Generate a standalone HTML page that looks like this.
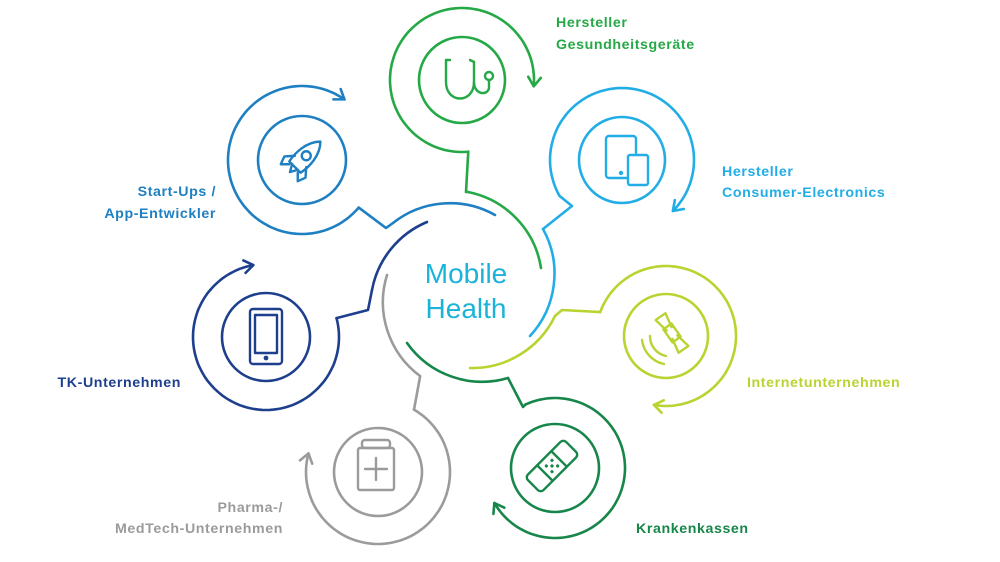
<!DOCTYPE html>
<html><head><meta charset="utf-8"><style>
html,body{margin:0;padding:0;background:#fff;}
svg{display:block;}
text{font-family:"Liberation Sans",sans-serif;font-weight:bold;font-size:14.2px;letter-spacing:0.6px;}
</style></head><body>
<svg id="s" width="1000" height="562" viewBox="0 0 1000 562" xmlns="http://www.w3.org/2000/svg">
<g id="g" fill="none" stroke-width="2.6" stroke-linecap="round" stroke-linejoin="round"></g>
<g id="icons" fill="none" stroke-width="2.4" stroke-linecap="round" stroke-linejoin="round">
  <g stroke="#1e7fc2" transform="translate(302,160) rotate(45)">
    <path d="M0,-26 C10,-16 10,0 8,10 L-8,10 C-10,0 -10,-16 0,-26 Z"/>
    <circle cx="0" cy="-6" r="4.5"/>
    <path d="M-8,2 L-15,10 L-12,18 L-6,12 M8,2 L15,10 L12,18 L6,12 M-4,10 L0,17 L4,10"/>
  </g>
  <g stroke="#25a846">
    <path d="M446,60 L446,82 C446,104 474,104 474,82 L474,62"/>
    <path d="M446,60 L450,60 M470,60 L474,62"/>
    <path d="M474,82 C474,96 490,96 489,86 L489,80"/>
    <circle cx="489" cy="76" r="4"/>
  </g>
  <g stroke="#22ade6">
    <rect x="606" y="136" width="30" height="42" rx="3"/>
    <rect x="628" y="155" width="20" height="30" rx="2" fill="#fff"/>
    <circle cx="621" cy="173" r="1" fill="#22ade6"/>
  </g>
  <g stroke="#b8d431">
    <g transform="translate(672,333) rotate(-35)">
      <rect x="-5" y="-8" width="10" height="16"/>
      <path d="M-5,-3 L-20,-6 L-20,6 L-5,3 M5,-3 L20,-6 L20,6 L5,3" transform="rotate(90)"/>
    </g>
    <path d="M650,336 A20,20 0 0 0 666,356 M642,340 A28,28 0 0 0 664,364"/>
  </g>
  <g stroke="#17864a" transform="translate(552,466) rotate(45)">
    <rect x="-11" y="-27" width="22" height="54" rx="4"/>
    <path d="M-11,-10 L11,-10 M-11,10 L11,10"/>
    <g fill="#17864a" stroke="none"><circle cx="-4" cy="-4" r="1.6"/><circle cx="4" cy="-4" r="1.6"/><circle cx="-4" cy="4" r="1.6"/><circle cx="4" cy="4" r="1.6"/><circle cx="0" cy="0" r="1.6"/></g>
  </g>
  <g stroke="#9b9b9b">
    <rect x="358" y="448" width="36" height="42" rx="2"/>
    <rect x="362" y="440" width="28" height="8" rx="3"/>
    <path d="M376,458 L376,480 M365,469 L387,469"/>
  </g>
  <g stroke="#1d3f8d">
    <rect x="250" y="309" width="32" height="55" rx="3"/>
    <rect x="255" y="315" width="22" height="38"/>
    <circle cx="266" cy="358" r="1.2" fill="#1d3f8d"/>
  </g>
</g>
<text x="466" y="283" text-anchor="middle" style="font-weight:normal;font-size:28px;letter-spacing:0;fill:#1bb3d8">Mobile</text>
<text x="466" y="318" text-anchor="middle" style="font-weight:normal;font-size:28px;letter-spacing:0;fill:#1bb3d8">Health</text>
<text x="556" y="27" fill="#25a846">Hersteller</text>
<text x="556" y="49" fill="#25a846">Gesundheitsgeräte</text>
<text x="722" y="176" fill="#22ade6">Hersteller</text>
<text x="722" y="197" fill="#22ade6">Consumer-Electronics</text>
<text x="216" y="196" text-anchor="end" fill="#1e7fc2">Start-Ups /</text>
<text x="216" y="218" text-anchor="end" fill="#1e7fc2">App-Entwickler</text>
<text x="181" y="387" text-anchor="end" fill="#1d3f8d">TK-Unternehmen</text>
<text x="747" y="387" fill="#b8d431">Internetunternehmen</text>
<text x="283" y="512" text-anchor="end" fill="#9b9b9b">Pharma-/</text>
<text x="283" y="533" text-anchor="end" fill="#9b9b9b">MedTech-Unternehmen</text>
<text x="636" y="533" fill="#17864a">Krankenkassen</text>
</svg>
<script>
var g=document.getElementById('g');
function P(d,c){var p=document.createElementNS('http://www.w3.org/2000/svg','path');p.setAttribute('d',d);p.setAttribute('stroke',c);g.appendChild(p);}
function C(cx,cy,r,c){var p=document.createElementNS('http://www.w3.org/2000/svg','circle');p.setAttribute('cx',cx);p.setAttribute('cy',cy);p.setAttribute('r',r);p.setAttribute('stroke',c);g.appendChild(p);}
var S=[
 ['#1e7fc2',302,160,44,74,40,305,[[386,228],[393,223]],[393,223,495,215,1]],
 ['#25a846',462,80,43,72,85,365,[[466,192],[468,192]],[468,192,541,268,1]],
 ['#22ade6',622,160,43,72,150,405,[[572,206],[543,229]],[543,229,530,336,1]],
 ['#b8d431',666,336,42,70,200,460,[[562,310],[555,316]],[555,316,470,368,1]],
 ['#17864a',555,468,44,70,245,510,[[523,407],[508,378]],[508,378,407,343,1]],
 ['#9b9b9b',378,472,44,72,300,555,[[420,377],[420,376]],[420,376,387,275,1]],
 ['#1d3f8d',266,337,44,73,345,620,[[368,310],[372,290]],[372,290,427,222,1]]
];
S.forEach(function(s){
 var c=s[0],cx=s[1],cy=s[2],r=s[3],R=s[4],a0=s[5],a1=s[6];
 C(cx,cy,r,c);
 var rad=Math.PI/180,d='';
 for(var a=a0;a<=a1;a+=3){var x=cx+R*Math.cos(a*rad),y=cy+R*Math.sin(a*rad);d+=(d?'L':'M')+x.toFixed(1)+','+y.toFixed(1);}
 var ex=cx+R*Math.cos(a1*rad),ey=cy+R*Math.sin(a1*rad);
 d+='L'+ex.toFixed(1)+','+ey.toFixed(1);
 P(d,c);
 var t=(a1+90)*rad,tx=Math.cos(t),ty=Math.sin(t),nx=-ty,ny=tx,L=9;
 P('M'+(ex-L*tx+L*0.7*nx)+','+(ey-L*ty+L*0.7*ny)+'L'+ex+','+ey+'L'+(ex-L*tx-L*0.7*nx)+','+(ey-L*ty-L*0.7*ny),c);
 var sx=cx+R*Math.cos(a0*rad),sy=cy+R*Math.sin(a0*rad);
 var z='M'+sx+','+sy;s[7].forEach(function(p){z+='L'+p[0]+','+p[1];});
 P(z,c);
 var k=s[8];
 P('M'+k[0]+','+k[1]+'A92,92 0 0 '+k[4]+' '+k[2]+','+k[3],c);
});
</script>
</body></html>
